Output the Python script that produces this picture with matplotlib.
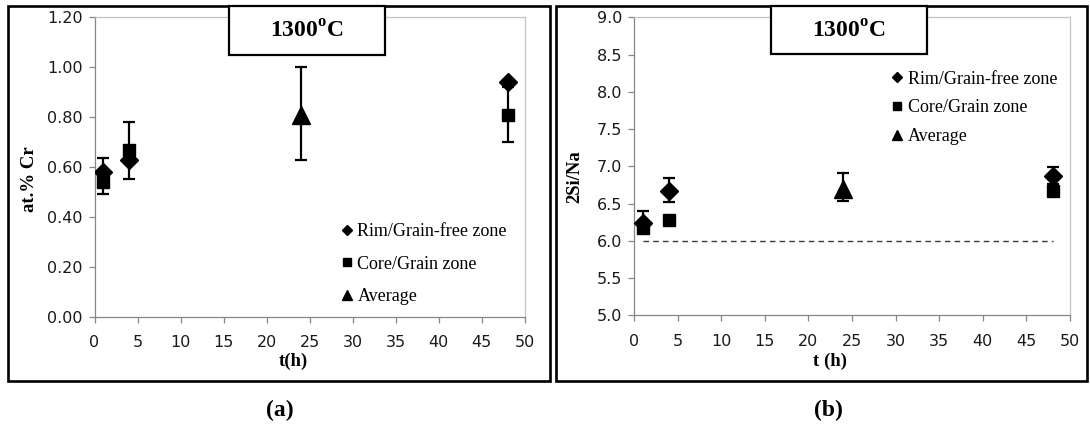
import matplotlib
matplotlib.use("Agg")
import matplotlib.pyplot as plt
from matplotlib.patches import Rectangle
import numpy as np

plt.rcParams['mathtext.fontset'] = 'custom'
plt.rcParams['mathtext.rm'] = 'Liberation Serif'
plt.rcParams['mathtext.bf'] = 'Liberation Serif:bold'

# ---------------- data ----------------
t_pts = [1, 4, 48]
t_avg = [24]

# panel (a): at.% Cr
cr_rim = [0.58, 0.63, 0.94]
cr_core = [0.54, 0.67, 0.81]
cr_avg = [0.81]
cr_core_err_lo = [0.49, 0.55, 0.70]
cr_core_err_hi = [0.635, 0.78, 0.92]
cr_avg_err_lo = [0.63]
cr_avg_err_hi = [1.00]

# panel (b): 2Si/Na
si_rim = [6.24, 6.67, 6.87]
si_core = [6.17, 6.28, 6.67]
si_avg = [6.70]
si_rim_err_lo = [6.10, 6.52, 6.76]
si_rim_err_hi = [6.40, 6.84, 6.99]
si_avg_err_lo = [6.53]
si_avg_err_hi = [6.91]
ref_t = [1, 48]
ref_val = [6.0, 6.0]

labels = ["Rim/Grain-free zone", "Core/Grain zone", "Average"]
title_txt = r'1300$^{\mathbf{o}}$C'

# ---------------- figure ----------------
W, H = 1090, 430
fig = plt.figure(figsize=(W / 100, H / 100), dpi=100)

def fx(px):
    return px / W

def fy(py):
    return 1 - py / H

axL = fig.add_axes([fx(94.5), fy(316.7), fx(524.8) - fx(94.5), fy(17.3) - fy(316.7)])
axR = fig.add_axes([fx(634), fy(315.3), fx(1070) - fx(634), fy(17.3) - fy(315.3)])

tick_font = dict(family='DejaVu Sans', size=11.5)
lab_font = dict(family='Liberation Serif', weight='bold', size=13.5)
leg_font = dict(family='Liberation Serif', size=13)

def errs(vals, lo, hi):
    v = np.array(vals)
    return np.vstack([v - np.array(lo), np.array(hi) - v])

def style(ax):
    for s in ['left', 'bottom']:
        ax.spines[s].set_color('#868686')
        ax.spines[s].set_linewidth(0.9)
    for s in ['top', 'right']:
        ax.spines[s].set_color('#c4c4c4')
        ax.spines[s].set_linewidth(0.9)
    ax.tick_params(axis='both', direction='out', length=4.5, width=0.9, color='#868686',
                   labelcolor='#1a1a1a', top=False, right=False)
    ax.tick_params(axis='y', pad=4)
    ax.tick_params(axis='x', pad=9)
    for lab in ax.get_xticklabels() + ax.get_yticklabels():
        lab.set_fontfamily(tick_font['family'])
        lab.set_fontsize(tick_font['size'])
    ax.set_xlim(0, 50)
    ax.set_xticks(np.arange(0, 51, 5))

ebkw = dict(fmt='none', ecolor='black', elinewidth=1.6, capsize=4.5, capthick=1.6, zorder=2)

# ----- panel (a)
axL.errorbar(t_pts, cr_core, yerr=errs(cr_core, cr_core_err_lo, cr_core_err_hi), **ebkw)
axL.errorbar(t_avg, cr_avg, yerr=errs(cr_avg, cr_avg_err_lo, cr_avg_err_hi), **ebkw)
axL.plot(t_pts, cr_rim, 'kD', ms=9.3, ls='none', label=labels[0], zorder=4)
axL.plot(t_pts, cr_core, 'ks', ms=8.8, ls='none', label=labels[1], zorder=3)
axL.plot(t_avg, cr_avg, 'k^', ms=12.5, ls='none', label=labels[2], zorder=3)
axL.set_ylim(0, 1.2)
axL.set_yticks(np.arange(0, 1.21, 0.2))
axL.set_yticklabels([f"{v:.2f}" for v in np.arange(0, 1.21, 0.2)])
style(axL)
axL.set_xlabel('t(h)', fontdict=lab_font, va='center', ha='center')
axL.xaxis.set_label_coords(0.463, -0.150)
axL.set_ylabel('at.% Cr', fontdict=lab_font, va='center', ha='center')
axL.yaxis.set_label_coords(-0.151, 0.46)
axL.legend(loc='center left', bbox_to_anchor=(0.571, 0.176), frameon=False, prop=leg_font,
           markerscale=0.6, handlelength=0.7, handletextpad=0.25, labelspacing=0.85,
           borderpad=0, borderaxespad=0)

# ----- panel (b)
axR.plot(ref_t, ref_val, ls=(0, (4, 3)), color='#3a3a3a', lw=1.0, zorder=1)
axR.errorbar(t_pts, si_rim, yerr=errs(si_rim, si_rim_err_lo, si_rim_err_hi), **ebkw)
axR.errorbar(t_avg, si_avg, yerr=errs(si_avg, si_avg_err_lo, si_avg_err_hi), **ebkw)
axR.plot(t_pts, si_rim, 'kD', ms=9.3, ls='none', label=labels[0], zorder=4)
axR.plot(t_pts, si_core, 'ks', ms=8.8, ls='none', label=labels[1], zorder=3)
axR.plot(t_avg, si_avg, 'k^', ms=12.5, ls='none', label=labels[2], zorder=3)
axR.set_ylim(5, 9)
axR.set_yticks(np.arange(5, 9.01, 0.5))
axR.set_yticklabels([f"{v:.1f}" for v in np.arange(5, 9.01, 0.5)])
style(axR)
axR.set_xlabel('t (h)', fontdict=lab_font, va='center', ha='center')
axR.xaxis.set_label_coords(0.45, -0.156)
axR.set_ylabel('2Si/Na', fontdict=lab_font, va='center', ha='center')
axR.yaxis.set_label_coords(-0.136, 0.464)
axR.legend(loc='center left', bbox_to_anchor=(0.589, 0.696), frameon=False, prop=leg_font,
           markerscale=0.6, handlelength=0.7, handletextpad=0.25, labelspacing=0.65,
           borderpad=0, borderaxespad=0)

# ----- outer frames
for x0, x1 in [(7.6, 550), (556, 1087)]:
    fig.patches.append(Rectangle((fx(x0), fy(381)), fx(x1) - fx(x0), fy(6) - fy(381),
                                 transform=fig.transFigure, fill=False, ec='black', lw=1.9,
                                 zorder=5))

# ----- title boxes
for x0, x1, y1 in [(229, 385, 55), (771, 927, 54)]:
    fig.patches.append(Rectangle((fx(x0), fy(y1)), fx(x1) - fx(x0), fy(6) - fy(y1),
                                 transform=fig.transFigure, fc='white', ec='black', lw=1.6,
                                 zorder=6))
    fig.text(fx((x0 + x1) / 2), fy(32), title_txt, ha='center', va='center',
             family='Liberation Serif', weight='bold', size=17, zorder=7)

# ----- panel labels
fig.text(fx(280), fy(410), '(a)', ha='center', va='center', family='Liberation Serif',
         weight='bold', size=17)
fig.text(fx(828), fy(410), '(b)', ha='center', va='center', family='Liberation Serif',
         weight='bold', size=17)

fig.savefig('out.png', dpi=100)
